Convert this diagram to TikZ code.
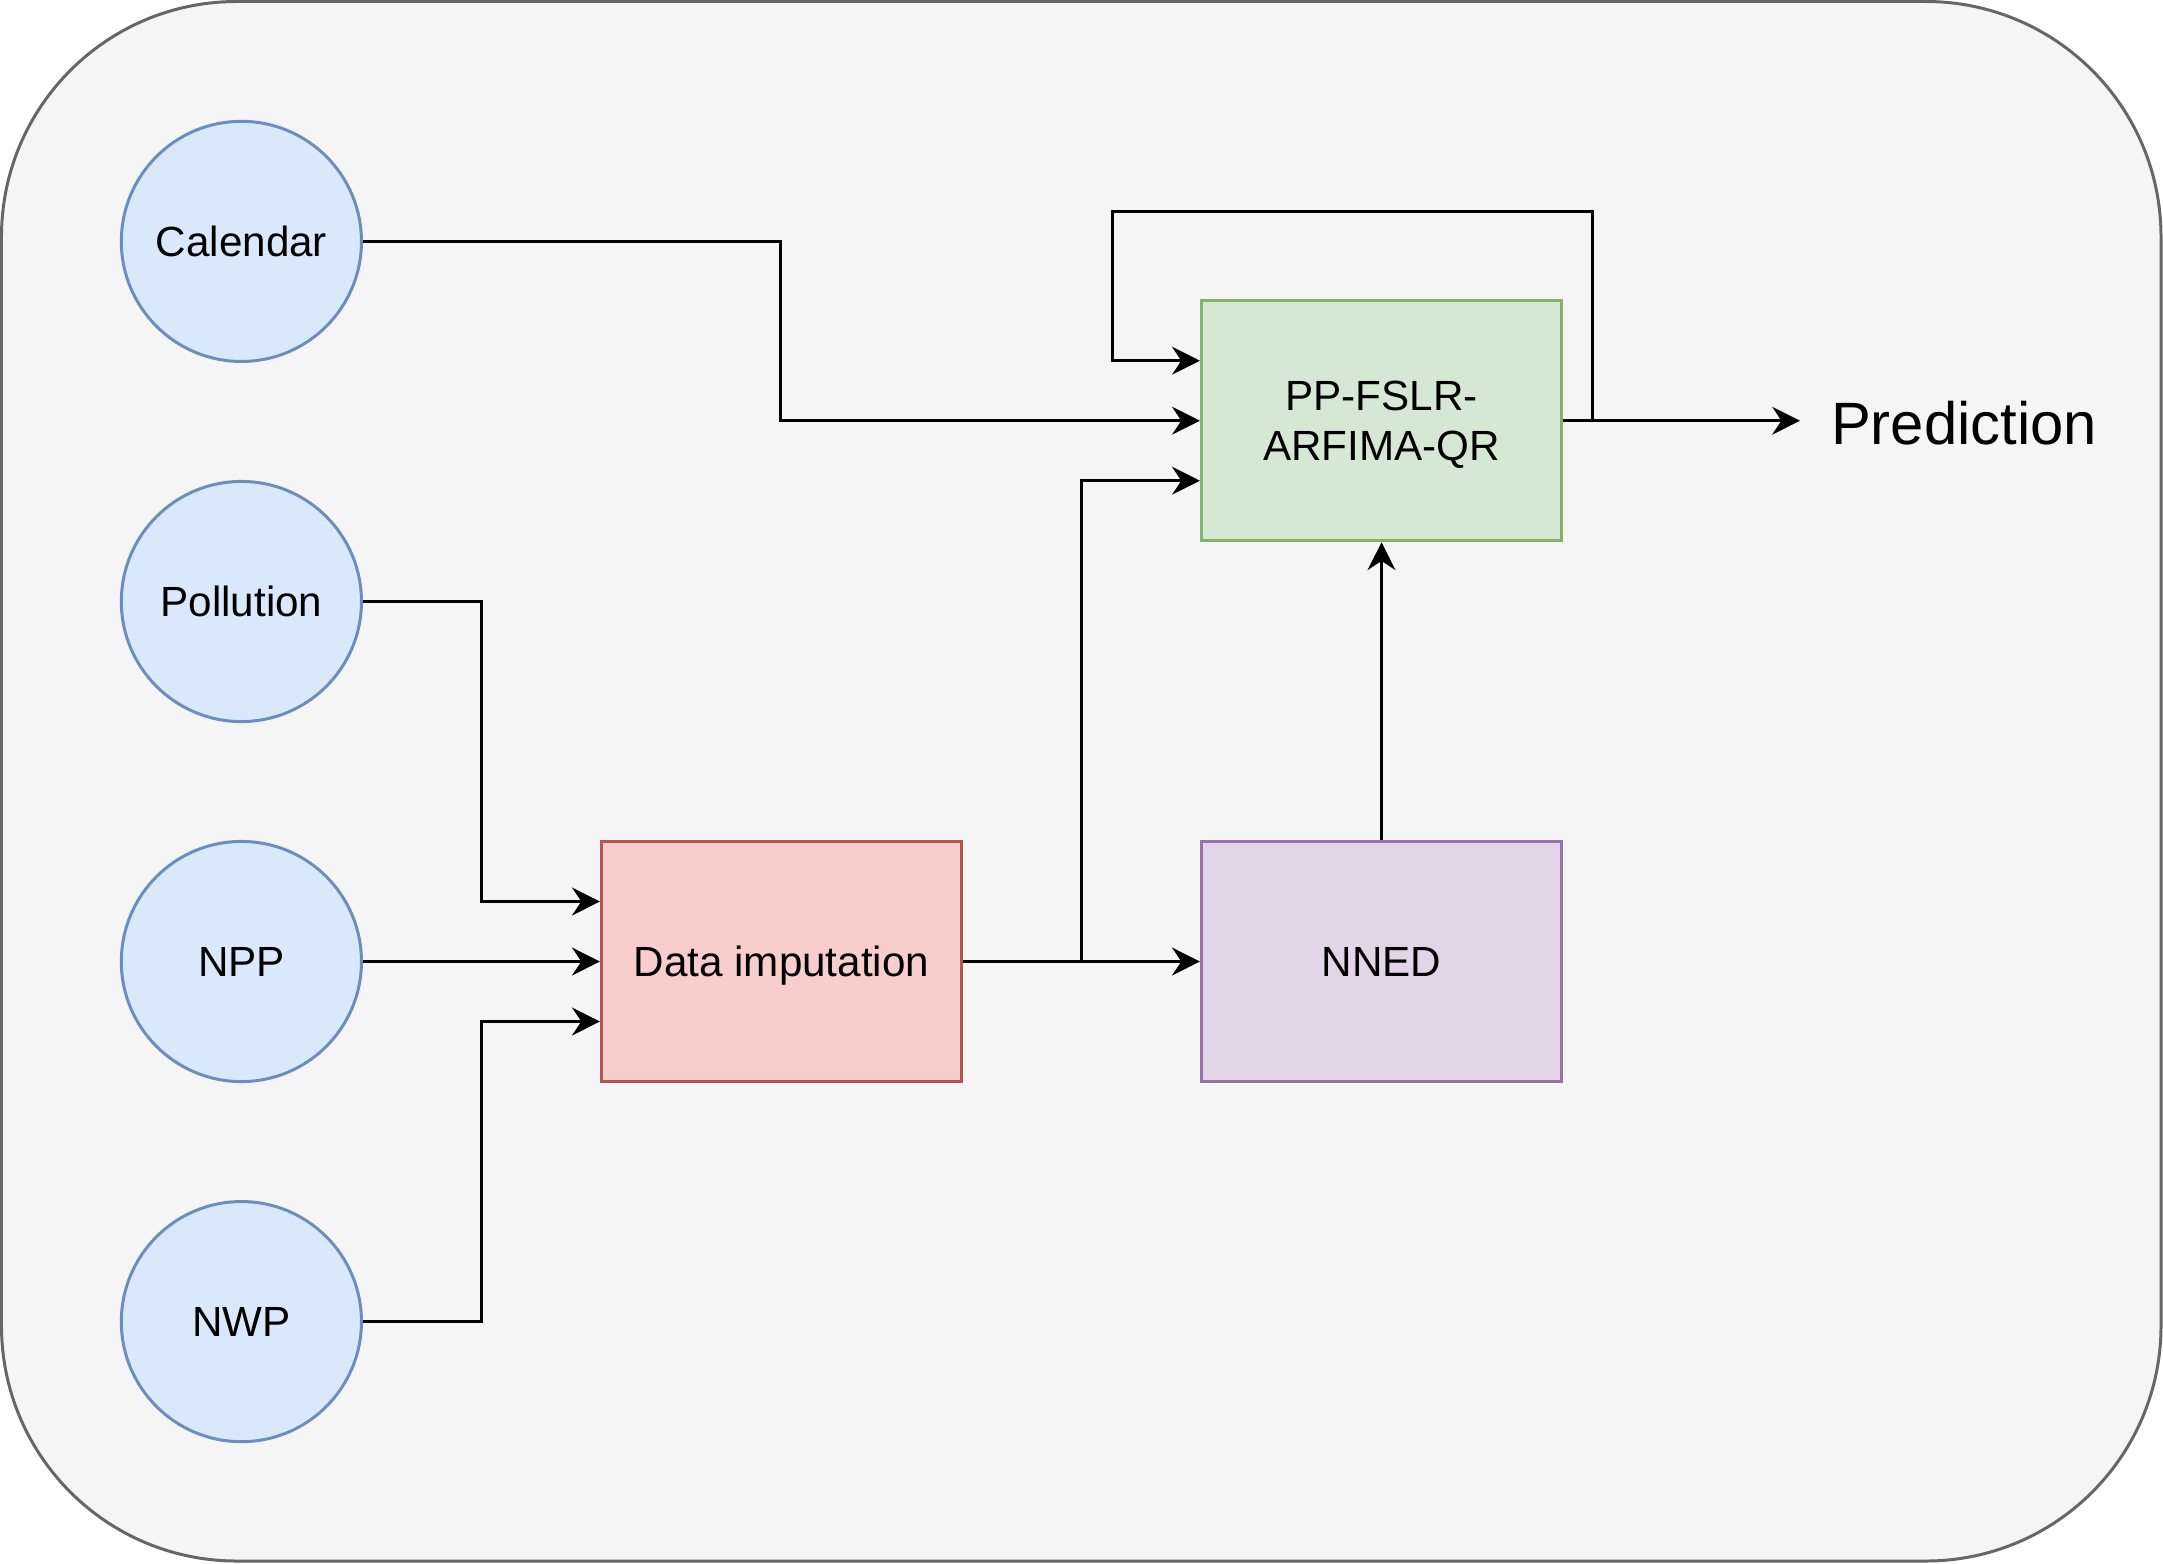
\documentclass[tikz,border=0pt]{standalone}
\usepackage{fontspec}
\setmainfont{Liberation Sans}
\usetikzlibrary{arrows.meta,calc}
\definecolor{bgfill}{HTML}{F5F5F5}
\definecolor{bgline}{HTML}{666666}
\definecolor{bluefill}{HTML}{DAE8FC}
\definecolor{blueline}{HTML}{6C8EBF}
\definecolor{redfill}{HTML}{F8CECC}
\definecolor{redline}{HTML}{B85450}
\definecolor{greenfill}{HTML}{D5E8D4}
\definecolor{greenline}{HTML}{82B366}
\definecolor{purplefill}{HTML}{E1D5E7}
\definecolor{purpleline}{HTML}{9673A6}
\begin{document}
\begin{tikzpicture}[x=0.01cm,y=-0.01cm,
  every node/.style={font=\fontsize{12pt}{14.4pt}\selectfont, align=center},
  src/.style={circle, draw=blueline, fill=bluefill, line width=0.85pt, minimum size=2.4cm, inner sep=0pt},
  procbox/.style={rectangle, line width=0.85pt, minimum width=3.6cm, minimum height=2.4cm, inner sep=0pt, text depth=0pt},
  conn/.style={line width=0.85pt, -{Stealth[length=7.9pt,width=7.9pt,inset=2.6pt]}}
]
\useasboundingbox (0,0) rectangle (2163,1563);
\draw[bgline, fill=bgfill, line width=0.85pt, rounded corners=2.35cm] (1.5,1.5) rectangle (2161,1561);

\node[src] (cal) at (241.4,241.4) {Calendar};
\node[src] (pol) at (241.4,601.5) {Pollution};
\node[src] (npp) at (241.4,961.5) {NPP};
\node[src] (nwp) at (241.4,1321.6) {NWP};

\node[procbox, draw=greenline, fill=greenfill] (model) at (1381.5,420.7) {PP-FSLR-\\ARFIMA-QR};
\node[procbox, draw=redline, fill=redfill] (imp) at (781.5,961.5) {Data imputation};
\node[procbox, draw=purpleline, fill=purplefill] (nned) at (1381.5,961.5) {NNED};
\node[font=\fontsize{17pt}{20pt}\selectfont] (pred) at (1964,423.5) {Prediction};

\coordinate (out) at (1800,420.7);
\coordinate (fb) at (1592,420.7);
\coordinate (br) at (1081.5,961.5);

\draw[conn] (cal.east) -- (780.8,241.4) |- (model.west);
\draw[conn] (pol.east) -- (481.4,601.5) |- ($(imp.west)+(0,-60)$);
\draw[conn] (npp.east) -- (imp.west);
\draw[conn] (nwp.east) -- (481.4,1321.6) |- ($(imp.west)+(0,60)$);
\draw[conn] (imp.east) -- (nned.west);
\draw[conn] (br) |- ($(model.west)+(0,60)$);
\draw[conn] (nned.north) -- (model.south);
\draw[conn] (model.east) -- (out);
\draw[conn] (fb) -- (1592,211) -- (1112,211) |- ($(model.west)+(0,-60)$);
\end{tikzpicture}
\end{document}
